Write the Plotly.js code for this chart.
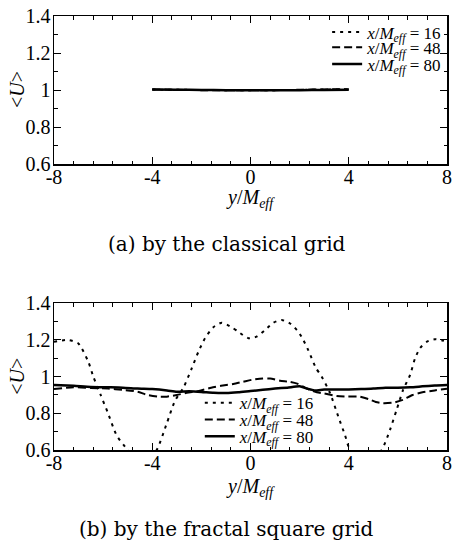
<!DOCTYPE html>
<html>
<head>
<meta charset="utf-8">
<script src="https://cdn.plot.ly/plotly-3.0.1.min.js"></script>
<style>html,body{margin:0;padding:0;background:#fff;}#chart{width:452px;height:544px;}</style>
</head>
<body>
<div id="chart"></div>
<script>
// ---- data: (a) classical grid ----
const topX   = [-4, -3, -2, -1, 0, 1, 2, 3, 4];
const top16  = [1.003, 1.002, 1.001, 1.000, 0.999, 1.000, 1.001, 1.003, 1.004];
const top48  = [1.004, 1.002, 1.000, 0.999, 0.999, 1.000, 1.002, 1.004, 1.005];
const top80  = [1.003, 1.002, 1.001, 1.000, 0.999, 0.999, 1.000, 1.001, 1.002];

// ---- data: (b) fractal square grid ----
const bot16X = [-8, -7.42, -7.0, -6.6, -6.4, -6.1, -5.8, -5.45, -5.0, -4.4, -3.82, -3.41, -3.07, -2.74, -2.39, -2.12, -1.85, -1.51, -1.17, -0.77, -0.5, -0.09, 0.25, 0.59, 0.93, 1.27, 1.61, 1.95, 2.15, 2.35, 2.49, 2.67, 2.9, 3.24, 3.58, 3.85, 4.05, 4.7, 5.34, 5.68, 5.95, 6.22, 6.5, 6.7, 6.9, 7.17, 7.51, 7.85, 8];
const bot16  = [1.19, 1.20, 1.18, 1.08, 1.0, 0.9, 0.8, 0.68, 0.6, 0.52, 0.6, 0.745, 0.87, 0.937, 1.046, 1.136, 1.21, 1.27, 1.294, 1.27, 1.245, 1.21, 1.218, 1.254, 1.294, 1.309, 1.29, 1.245, 1.2, 1.145, 1.10, 1.046, 1.0, 0.91, 0.78, 0.68, 0.6, 0.52, 0.6, 0.71, 0.82, 0.93, 1.01, 1.1, 1.155, 1.19, 1.204, 1.196, 1.19];
const bot48X = [-8, -7.2, -6.5, -5.8, -5.2, -4.6, -4.2, -3.7, -3.4, -3.0, -2.6, -2.1, -1.6, -1.2, -0.7, -0.3, 0.1, 0.5, 0.8, 1.2, 1.6, 1.9, 2.3, 2.7, 3.0, 3.5, 3.9, 4.4, 4.8, 5.1, 5.4, 5.8, 6.2, 6.6, 7.0, 7.5, 8];
const bot48  = [0.932, 0.942, 0.938, 0.935, 0.928, 0.918, 0.9, 0.89, 0.891, 0.9, 0.912, 0.922, 0.94, 0.95, 0.96, 0.972, 0.984, 0.99, 0.99, 0.978, 0.972, 0.962, 0.935, 0.915, 0.908, 0.895, 0.891, 0.892, 0.878, 0.862, 0.855, 0.858, 0.873, 0.9, 0.915, 0.925, 0.934];
const bot80X = [-8, -7.2, -6.5, -5.8, -5.2, -4.6, -4.0, -3.4, -3.0, -2.5, -2.0, -1.5, -1.0, -0.5, 0, 0.5, 1.0, 1.5, 2.0, 2.3, 2.6, 3.0, 3.5, 4.0, 4.5, 5.0, 5.5, 6.0, 6.5, 7.0, 7.5, 8];
const bot80  = [0.955, 0.95, 0.944, 0.942, 0.94, 0.935, 0.932, 0.925, 0.918, 0.92, 0.917, 0.912, 0.911, 0.915, 0.922, 0.928, 0.935, 0.94, 0.947, 0.935, 0.925, 0.93, 0.93, 0.93, 0.932, 0.935, 0.94, 0.94, 0.942, 0.947, 0.952, 0.955];

const seriesNames = ['<i>x</i>/<i>M<sub>eff</sub></i> = 16', '<i>x</i>/<i>M<sub>eff</sub></i> = 48', '<i>x</i>/<i>M<sub>eff</sub></i> = 80'];
const xTickVals = [-8, -4, 0, 4, 8];
const xTickText = ['-8', '-4', '0', '4', '8'];
const captions = ['(a) by the classical grid', '(b) by the fractal square grid'];

const serif = '"Liberation Serif", serif';
const dashes = ['3px,5px', '8px,4px', 'solid'];
const widths = [2, 2, 2.5];

function mk(x, y, i, xa, ya, lg) {
  return {x: x, y: y, mode: 'lines', xaxis: xa, yaxis: ya, legend: lg, name: seriesNames[i],
    line: {color: 'black', width: widths[i], dash: dashes[i], shape: 'spline', smoothing: 0.6},
    hoverinfo: 'skip'};
}
const traces = [
  mk(topX, top16, 0, 'x', 'y', 'legend'),
  mk(topX, top48, 1, 'x', 'y', 'legend2'),
  mk(topX, top80, 2, 'x', 'y', 'legend3'),
  mk(bot16X, bot16, 0, 'x2', 'y2', 'legend4'),
  mk(bot48X, bot48, 1, 'x2', 'y2', 'legend5'),
  mk(bot80X, bot80, 2, 'x2', 'y2', 'legend6')
];

function xax(anchor) {
  return {anchor: anchor, domain: [0, 1], range: [-8, 8], tickmode: 'array', tickvals: xTickVals, ticktext: xTickText,
    showline: true, linecolor: 'black', linewidth: 1.5, mirror: 'allticks', ticks: 'inside', ticklen: 7, tickwidth: 1, tickcolor: 'black',
    minor: {tickmode: 'linear', tick0: -8, dtick: 0.8, ticks: 'inside', ticklen: 3.5, tickwidth: 1, tickcolor: 'black', showgrid: false},
    showgrid: false, zeroline: false, tickfont: {family: serif, size: 20, color: 'black'}, ticklabelstandoff: -6};
}
function yax(anchor, dom) {
  return {anchor: anchor, domain: dom, range: [0.6, 1.4], tickmode: 'linear', tick0: 0.6, dtick: 0.2,
    showline: true, linecolor: 'black', linewidth: 1.5, mirror: 'allticks', ticks: 'inside', ticklen: 7, tickwidth: 1, tickcolor: 'black',
    minor: {tickmode: 'linear', tick0: 0.6, dtick: 0.1, ticks: 'inside', ticklen: 3.5, tickwidth: 1, tickcolor: 'black', showgrid: false},
    showgrid: false, zeroline: false, tickfont: {family: serif, size: 20, color: 'black'}, ticklabelstandoff: -2};
}
function lg(x, y) {
  return {x: x, y: y, xanchor: 'left', yanchor: 'middle', bgcolor: 'rgba(0,0,0,0)', borderwidth: 0,
    font: {family: serif, size: 17, color: 'black'}, tracegroupgap: 0, itemclick: false};
}
const annFont = {family: serif, size: 20, color: 'black'};
const capFont = {family: '"DejaVu Serif", serif', size: 20, color: 'black'};

const layout = {
  width: 452, height: 544,
  margin: {l: 54, r: 5, t: 16, b: 94},
  paper_bgcolor: 'white', plot_bgcolor: 'white',
  font: {family: serif, color: 'black'},
  showlegend: true,
  xaxis: xax('y'), yaxis: yax('x', [0.6583, 1]),
  xaxis2: xax('y2'), yaxis2: yax('x2', [0, 0.338]),
  legend: lg(0.695, 0.9622), legend2: lg(0.695, 0.9267), legend3: lg(0.695, 0.8885),
  legend4: lg(0.371, 0.1076), legend5: lg(0.371, 0.0691), legend6: lg(0.371, 0.0306),
  annotations: [
    {text: '<i>y</i>/<i>M<sub>eff</sub></i>', xref: 'paper', yref: 'paper', x: 0.5, y: 0.5806, xanchor: 'center', yanchor: 'middle', showarrow: false, font: annFont},
    {text: '<i>y</i>/<i>M<sub>eff</sub></i>', xref: 'paper', yref: 'paper', x: 0.5, y: -0.0853, xanchor: 'center', yanchor: 'middle', showarrow: false, font: annFont},
    {text: '&lt;<i>U</i>&gt;', xref: 'paper', yref: 'paper', x: -0.094, y: 0.8295, xanchor: 'center', yanchor: 'middle', textangle: -90, showarrow: false, font: annFont},
    {text: '&lt;<i>U</i>&gt;', xref: 'paper', yref: 'paper', x: -0.094, y: 0.169, xanchor: 'center', yanchor: 'middle', textangle: -90, showarrow: false, font: annFont},
    {text: captions[0], xref: 'paper', yref: 'paper', x: 0.439, y: 0.4747, xanchor: 'center', yanchor: 'middle', showarrow: false, font: capFont},
    {text: captions[1], xref: 'paper', yref: 'paper', x: 0.439, y: -0.182, xanchor: 'center', yanchor: 'middle', showarrow: false, font: capFont}
  ]
};

Plotly.newPlot('chart', traces, layout, {displayModeBar: false, staticPlot: true});
</script>
</body>
</html>
